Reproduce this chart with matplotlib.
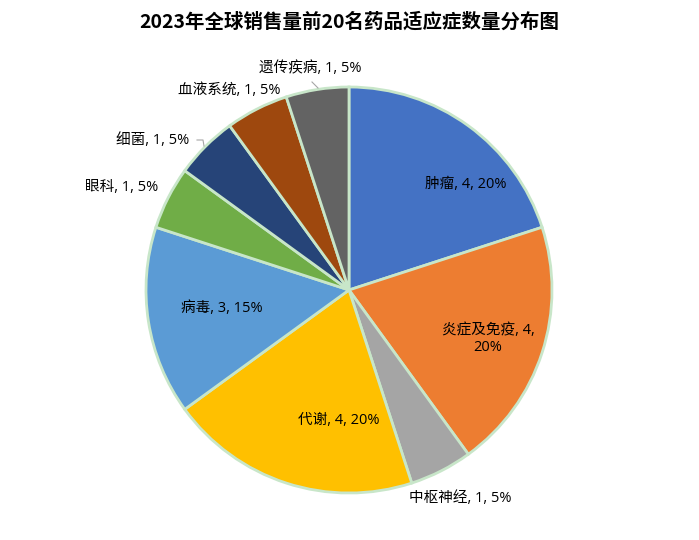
import matplotlib
matplotlib.use("Agg")
import matplotlib.pyplot as plt

plt.rcParams['font.family'] = ['Open Sans', 'Noto Sans CJK SC', 'DejaVu Sans']

categories = ["肿瘤", "炎症及免疫", "中枢神经", "代谢", "病毒", "眼科", "细菌", "血液系统", "遗传疾病"]
values = [4, 4, 1, 4, 3, 1, 1, 1, 1]
colors = ["#4472C4", "#ED7D31", "#A5A5A5", "#FFC000", "#5B9BD5", "#70AD47", "#264478", "#9E480E", "#636363"]
title = "2023年全球销售量前20名药品适应症数量分布图"

W, H = 699, 540
cx, cy, R = 349, 290, 203
fig = plt.figure(figsize=(W / 100, H / 100), dpi=100)
ax = fig.add_axes([0, 0, 1, 1])

ax.pie(values, colors=colors, startangle=90, counterclock=False, radius=1.0,
       center=(0, 0), frame=True,
       wedgeprops=dict(edgecolor="#C8E6C9", linewidth=2.0))
ax.set_xlim(-cx / R, (W - cx) / R)
ax.set_ylim(-(H - cy) / R, cy / R)
ax.set_aspect('auto')
ax.axis('off')

total = sum(values)
label_px = [(466, 184), (488, 339), (460, 498), (339, 421), (222, 308),
            (122, 188), (153, 141), (229, 90), (310, 68)]
wrap = [False, True, False, False, False, False, False, False, False]

def px2d(x, y):
    return (x - cx) / R, (cy - y) / R

for cat, v, (px, py), wr in zip(categories, values, label_px, wrap):
    pct = round(v / total * 100)
    if wr:
        s = f"{cat}, {v},\n{pct}%"
    else:
        s = f"{cat}, {v}, {pct}%"
    x, y = px2d(px, py)
    ax.text(x, y, s, ha='center', va='center', fontsize=10.5, color='#000000',
            linespacing=1.2)

# leader lines
for pts in ([(312, 82), (318, 88)], [(197, 140), (203, 140), (204, 146)]):
    xs, ys = zip(*[px2d(a, b) for a, b in pts])
    ax.plot(xs, ys, color='#A6A6A6', linewidth=0.8)

fig.text(349 / W, 1 - 22 / H, title, ha='center', va='center', fontsize=14,
         fontweight='bold', color='#000000',
         family=['Noto Sans CJK SC', 'DejaVu Sans'])

fig.savefig("out.png", dpi=100, facecolor='white')
